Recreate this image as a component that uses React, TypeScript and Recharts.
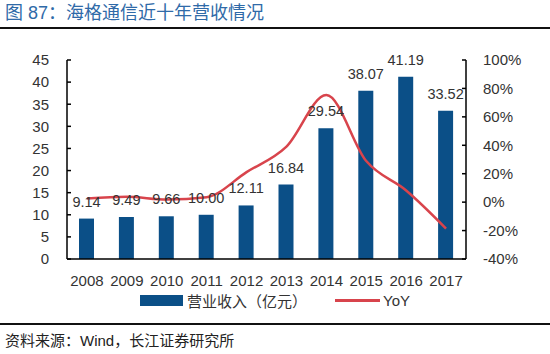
import React from 'react';
import { ComposedChart, Bar, Line, XAxis, YAxis, Legend, LabelList } from 'recharts';

const years = ['2008', '2009', '2010', '2011', '2012', '2013', '2014', '2015', '2016', '2017'];
const revenue = [9.14, 9.49, 9.66, 10.0, 12.11, 16.84, 29.54, 38.07, 41.19, 33.52];
const yoy = [2.5, 3.8, 1.8, 3.5, 21.1, 39.1, 75.4, 28.9, 8.2, -18.6];
const leftTicks = [0, 5, 10, 15, 20, 25, 30, 35, 40, 45];
const rightTicks = [-40, -20, 0, 20, 40, 60, 80, 100];

const data = years.map((y, i) => ({ year: y, revenue: revenue[i], yoy: yoy[i] }));

const FONT = '"Liberation Sans", Arial, "Noto Sans CJK SC", sans-serif';
const BAR = '#0b4f87';
const RED = '#d8444c';
const TXT = '#333333';

const renderLegend = () => (
  <div style={{ display: 'flex', justifyContent: 'center', alignItems: 'center', fontSize: 15, color: TXT, fontFamily: FONT, height: 20 }}>
    <span style={{ width: 43, height: 11, background: BAR, display: 'inline-block', marginRight: 4 }} />
    <span>营业收入（亿元）</span>
    <span style={{ width: 45, height: 3, background: RED, display: 'inline-block', marginLeft: 28, marginRight: 3 }} />
    <span>YoY</span>
  </div>
);

export default function App() {
  return (
    <div style={{ position: 'absolute', left: 0, top: 0, width: 550, height: 354, background: '#fff', fontFamily: FONT, overflow: 'hidden' }}>
      <div style={{ position: 'absolute', left: 5, top: 2, fontSize: 18, color: '#2f6aa8', whiteSpace: 'nowrap', lineHeight: '22px' }}>
        图 87：海格通信近十年营收情况
      </div>
      <div style={{ position: 'absolute', left: 0, top: 27, width: 550, height: 2, background: '#111' }} />
      <ComposedChart
        width={550}
        height={354}
        data={data}
        margin={{ top: 60, right: 0, bottom: 65, left: 0 }}
        style={{ position: 'absolute', left: 0, top: 0 }}
      >
        <XAxis
          dataKey="year"
          xAxisId="x"
          height={30}
          tickLine={false}
          tickMargin={10}
          axisLine={{ stroke: '#000', strokeWidth: 1.5 }}
          tick={{ fontSize: 15, fill: TXT, fontFamily: FONT }}
          interval={0}
        />
        <YAxis
          yAxisId="left"
          orientation="left"
          width={67}
          domain={[0, 45]}
          ticks={leftTicks}
          interval={0}
          tickSize={-4}
          tickMargin={22}
          axisLine={{ stroke: '#000', strokeWidth: 1.5 }}
          tickLine={{ stroke: '#000', strokeWidth: 1.5 }}
          tick={{ fontSize: 15, fill: TXT, fontFamily: FONT }}
        />
        <YAxis
          yAxisId="right"
          orientation="right"
          width={84}
          domain={[-40, 100]}
          ticks={rightTicks}
          interval={0}
          tickSize={-4}
          tickMargin={21}
          tickFormatter={(v: number) => `${v}%`}
          axisLine={{ stroke: '#000', strokeWidth: 1.5 }}
          tickLine={{ stroke: '#000', strokeWidth: 1.5 }}
          tick={{ fontSize: 15, fill: TXT, fontFamily: FONT, textAnchor: 'start' }}
        />
        <Bar dataKey="revenue" xAxisId="x" yAxisId="left" fill={BAR} barSize={15} isAnimationActive={false}>
          <LabelList
            dataKey="revenue"
            position="top"
            offset={12}
            formatter={(v: number) => Number(v).toFixed(2)}
            style={{ fontSize: 14.5, fill: TXT, fontFamily: FONT }}
          />
        </Bar>
        <Line
          dataKey="yoy"
          xAxisId="x"
          yAxisId="right"
          type="monotone"
          stroke={RED}
          strokeWidth={2.5}
          dot={false}
          activeDot={false}
          isAnimationActive={false}
        />
        <Legend
          layout="horizontal"
          verticalAlign="middle"
          align="center"
          content={renderLegend}
          wrapperStyle={{ top: 290, left: 0, width: 550 }}
        />
      </ComposedChart>
      <div style={{ position: 'absolute', left: 0, top: 323, width: 550, height: 2, background: '#111' }} />
      <div style={{ position: 'absolute', left: 5, top: 331, fontSize: 15, color: '#222', whiteSpace: 'nowrap', lineHeight: '20px' }}>
        资料来源：Wind，长江证券研究所
      </div>
    </div>
  );
}
